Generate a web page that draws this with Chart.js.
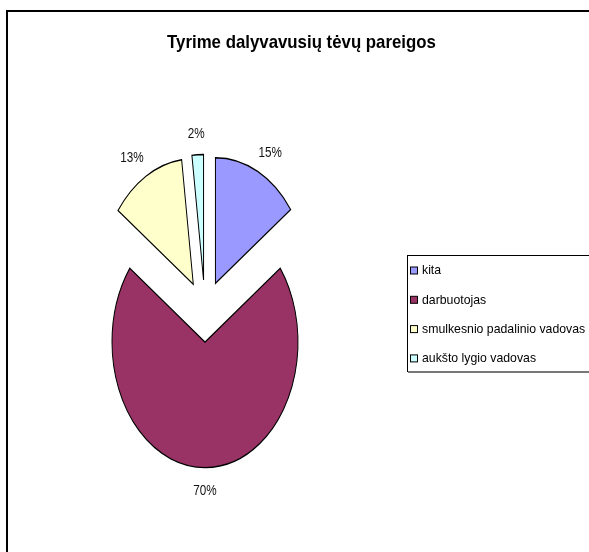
<!DOCTYPE html>
<html><head><meta charset="utf-8">
<script src="https://cdn.jsdelivr.net/npm/chart.js@4"></script>
<style>html,body{margin:0;padding:0;background:#fff;overflow:hidden}</style>
</head><body>
<canvas id="c" width="589" height="552" style="display:block;width:589px;height:552px"></canvas>
<script>
const chartTitle = 'Tyrime dalyvavusių tėvų pareigos';
const categories = ['kita', 'darbuotojas', 'smulkesnio padalinio vadovas', 'aukšto lygio vadovas'];
const percentages = [15, 70, 13, 2];
const sliceColors = ['#9999FF', '#993366', '#FFFFCC', '#CCFFFF'];

const SY = 1.35;        // vertical stretch of the pie (ellipse)
const EXPLODE = 23;     // slice explosion in px
const R = 93;           // pie radius in px (horizontal)
const LABEL_GAP = 12;
const FONT = '"Liberation Sans", Arial, sans-serif';

function squeezedText(ctx, txt, x, y, sx) {
  ctx.save();
  ctx.translate(x, y);
  ctx.scale(sx, 1);
  ctx.fillText(txt, 0, 0);
  ctx.restore();
}

const framePlugin = {
  id: 'frame',
  beforeDraw(chart) {
    const ctx = chart.ctx;
    ctx.save();
    ctx.fillStyle = '#fff';
    ctx.fillRect(0, 0, chart.width, chart.height);
    ctx.strokeStyle = '#000';
    ctx.lineWidth = 2;
    ctx.strokeRect(7, 11, 800, 800);
    ctx.restore();
  }
};

const ellipsePlugin = {
  id: 'ellipse',
  beforeDatasetsDraw(chart) {
    const meta = chart.getDatasetMeta(0);
    const a0 = meta.data[0];
    const cx = a0.x, cy = a0.y;
    const ctx = chart.ctx;
    ctx.save();
    ctx.translate(cx, cy);
    ctx.scale(1, SY);
    ctx.translate(-cx, -cy);
  },
  beforeDatasetDraw(chart, args) {
    const ctx = chart.ctx;
    args.meta.data.forEach(a => {
      const mid = (a.startAngle + a.endAngle) / 2;
      ctx.save();
      ctx.translate(Math.cos(mid) * EXPLODE, Math.sin(mid) * EXPLODE);
      a.draw(ctx);
      ctx.restore();
    });
    return false;
  },
  afterDatasetsDraw(chart) {
    const ctx = chart.ctx;
    ctx.restore();
    const meta = chart.getDatasetMeta(0);
    const data = chart.data.datasets[0].data;
    const total = data.reduce((s, v) => s + v, 0);
    ctx.save();
    ctx.font = '15px ' + FONT;
    ctx.fillStyle = '#111';
    ctx.textAlign = 'center';
    ctx.textBaseline = 'middle';
    const sx = 0.78;
    meta.data.forEach((a, i) => {
      const cx = a.x, cy = a.y;
      const mid = (a.startAngle + a.endAngle) / 2;
      const dx = Math.cos(mid), dy = Math.sin(mid);
      const txt = Math.round(data[i] / total * 100) + '%';
      const w = ctx.measureText(txt).width * sx, h = 12;
      const dist = R + EXPLODE + LABEL_GAP;
      const x = cx + dx * dist + dx * (w / 2 + 4);
      const y = cy + dy * dist * SY + dy * (h / 2);
      squeezedText(ctx, txt, x, y + 1, sx);
    });
    ctx.restore();
  }
};

const decorPlugin = {
  id: 'decor',
  afterDraw(chart) {
    const ctx = chart.ctx;
    ctx.save();
    // title
    ctx.font = 'bold 19px ' + FONT;
    ctx.fillStyle = '#000';
    ctx.textAlign = 'center';
    ctx.textBaseline = 'middle';
    squeezedText(ctx, chartTitle, 301.5, 43, 0.885);
    // legend box
    ctx.lineWidth = 1;
    ctx.strokeStyle = '#000';
    ctx.strokeRect(407.5, 255.5, 300, 116);
    ctx.strokeStyle = '#777';
    ctx.lineWidth = 2;
    ctx.beginPath(); ctx.moveTo(408, 372); ctx.lineTo(600, 372); ctx.stroke();
    // legend items
    const ds = chart.data.datasets[0];
    ctx.font = '13.5px ' + FONT;
    ctx.textAlign = 'left';
    ctx.lineWidth = 1;
    chart.data.labels.forEach((lab, i) => {
      const y = 270.5 + i * 29.3;
      ctx.fillStyle = ds.backgroundColor[i];
      ctx.fillRect(410.5, y - 3.5, 7, 7);
      ctx.strokeStyle = '#000';
      ctx.strokeRect(410.5, y - 3.5, 7, 7);
      ctx.fillStyle = '#000';
      squeezedText(ctx, lab, 422, y, 0.91);
    });
    ctx.restore();
  }
};

new Chart(document.getElementById('c'), {
  type: 'pie',
  data: {
    labels: categories,
    datasets: [{
      data: percentages,
      backgroundColor: sliceColors,
      borderColor: '#000',
      borderWidth: 1,
      borderJoinStyle: 'miter',
      offset: 0
    }]
  },
  options: {
    responsive: false,
    animation: false,
    events: [],
    radius: R,
    layout: { padding: { left: 14, right: 193, top: 70, bottom: 0 } },
    plugins: {
      legend: { display: false },
      title: { display: false },
      tooltip: { enabled: false }
    }
  },
  plugins: [framePlugin, ellipsePlugin, decorPlugin]
});
</script>
</body></html>
